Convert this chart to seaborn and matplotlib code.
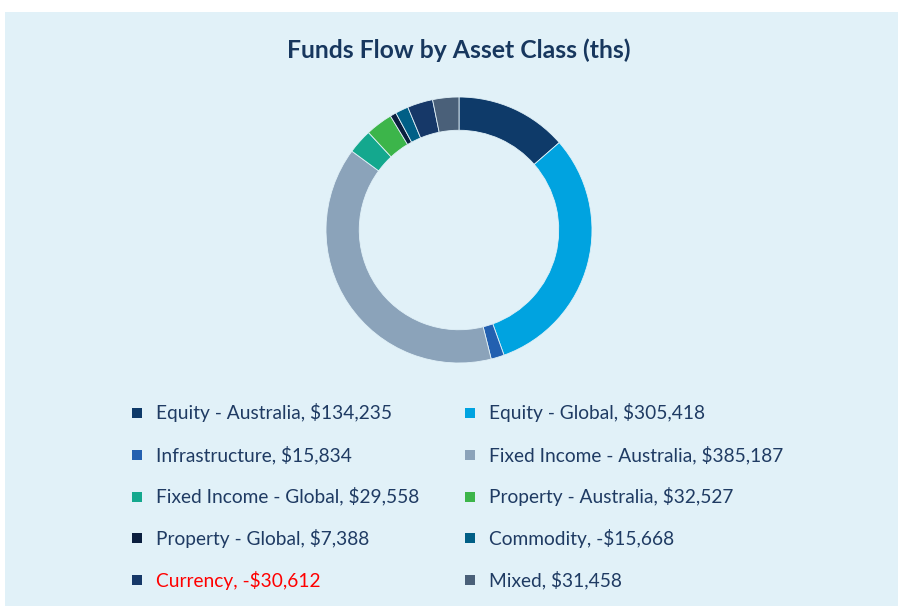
import matplotlib
matplotlib.use("Agg")
import matplotlib.pyplot as plt
from matplotlib.patches import Rectangle
import seaborn as sns

categories = ["Equity - Australia", "Equity - Global", "Infrastructure",
              "Fixed Income - Australia", "Fixed Income - Global",
              "Property - Australia", "Property - Global", "Commodity",
              "Currency", "Mixed"]
flows = [134235, 305418, 15834, 385187, 29558, 32527, 7388, -15668, -30612, 31458]
colors = ["#0E3A69", "#00A3E0", "#2360B0", "#8BA3BA", "#14A88E",
          "#3CB54A", "#0B1F3F", "#005F86", "#163868", "#4A6079"]

sns.set_theme(style="white")
plt.rcParams["font.family"] = ["Lato", "DejaVu Sans"]

bg = "#E1F1F8"
navy = "#1F3B63"

fig = plt.figure(figsize=(8.98, 6.06), dpi=100, facecolor="white")
fig.patches.append(Rectangle((5 / 898, 0), 1, 1 - 12 / 606, transform=fig.transFigure,
                             facecolor=bg, edgecolor="none", zorder=-5))

fig.text(459 / 898, 1 - 50 / 606, "Funds Flow by Asset Class (ths)", ha="center", va="center",
         fontsize=17.8, fontweight="bold", color="#17375E")

# donut - sizes are absolute flows
ax = fig.add_axes([(459 - 133) / 898, 1 - 363 / 606, 266 / 898, 266 / 606], zorder=2)
ax.pie([abs(v) for v in flows], colors=colors, startangle=90, counterclock=False,
       wedgeprops=dict(width=0.25, edgecolor=bg, linewidth=0.6))
ax.set_xlim(-1, 1)
ax.set_ylim(-1, 1)
ax.set_aspect("equal")
ax.axis("off")

# legend, two columns
for i, (name, val, c) in enumerate(zip(categories, flows, colors)):
    col, row = i % 2, i // 2
    x0 = 137 if col == 0 else 470
    y0 = 413 + row * 41.75
    sign = "-" if val < 0 else ""
    label = f"{name}, {sign}${abs(val):,}"
    fig.patches.append(Rectangle(((x0 - 5) / 898, 1 - (y0 + 5) / 606), 10 / 898, 10 / 606,
                                 transform=fig.transFigure, facecolor=c, edgecolor="none"))
    fig.text((x0 + 19) / 898, 1 - y0 / 606, label, ha="left", va="center", fontsize=13.8,
             color="#FF0000" if name == "Currency" else navy)

fig.savefig("out.png", dpi=100, facecolor="white")
